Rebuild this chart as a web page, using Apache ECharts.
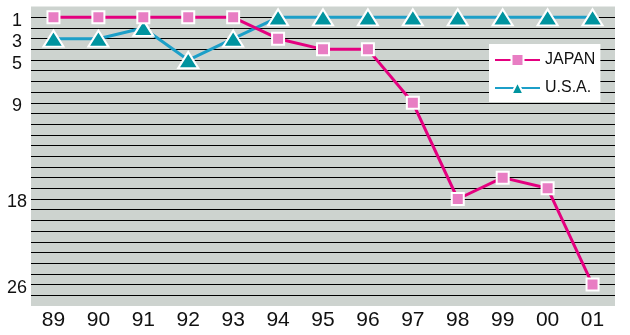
<!DOCTYPE html>
<html>
<head>
<meta charset="utf-8">
<script src="https://cdn.jsdelivr.net/npm/echarts@6/dist/echarts.min.js"></script>
<style>
html,body{margin:0;padding:0;background:#fff;}
#c{width:630px;height:335px;}
</style>
</head>
<body>
<div id="c"></div>
<script>
const years = ['89','90','91','92','93','94','95','96','97','98','99','00','01'];
const japan = [1,1,1,1,1,3,4,4,9,18,16,17,26];
const usa = [3,3,2,5,3,1,1,1,1,1,1,1,1];
const rankLabels = [1,3,5,9,18,26];

const chart = echarts.init(document.getElementById('c'), null, {renderer:'canvas'});
chart.setOption({
  animation:false,
  grid:{left:31, right:15, top:6.6, bottom:29.1, show:true, backgroundColor:'#cdd3cf', borderWidth:0},
  legend:{
    orient:'vertical', left:489, top:44,
    backgroundColor:'#ffffff',
    padding:[8,5,6,5],
    itemWidth:45, itemHeight:15, itemGap:12, itemTextGap:6,
    textStyle:{fontFamily:'Liberation Sans, Arial, sans-serif', fontSize:16, color:'#111'},
    data:['JAPAN','U.S.A.']
  },
  xAxis:{
    type:'category', data:years, boundaryGap:true,
    axisLine:{show:false}, axisTick:{show:false}, splitLine:{show:false},
    axisLabel:{fontFamily:'Liberation Sans Narrow, Liberation Sans, Arial, sans-serif', fontSize:21, color:'#111', margin:4}
  },
  yAxis:{
    type:'value', inverse:true, min:0, max:28, interval:1,
    axisLine:{show:false}, axisTick:{show:false},
    splitLine:{show:true, showMinLine:false, showMaxLine:false, lineStyle:{color:'#000', width:1}},
    axisLabel:{
      fontFamily:'Liberation Sans, Arial, sans-serif', fontSize:18, color:'#111',
      align:'center', margin:14,
      formatter:function(v){ return rankLabels.indexOf(v) >= 0 ? '{a|' + v + '}' : ''; },
      rich:{a:{fontFamily:'Liberation Sans, Arial, sans-serif', fontSize:18, color:'#111', padding:[7,0,0,0]}}
    }
  },
  series:[
    {
      name:'JAPAN', type:'line', data:japan,
      symbol:'rect', symbolSize:12,
      lineStyle:{color:'#e4007f', width:3},
      itemStyle:{color:'#e87dc3', borderColor:'#ffffff', borderWidth:2},
      z:3
    },
    {
      name:'U.S.A.', type:'line', data:usa,
      symbol:'triangle', symbolSize:[20,16],
      lineStyle:{color:'#1c9fc8', width:3},
      itemStyle:{color:'#00949f', borderColor:'#ffffff', borderWidth:2},
      z:2
    }
  ]
});
</script>
</body>
</html>
